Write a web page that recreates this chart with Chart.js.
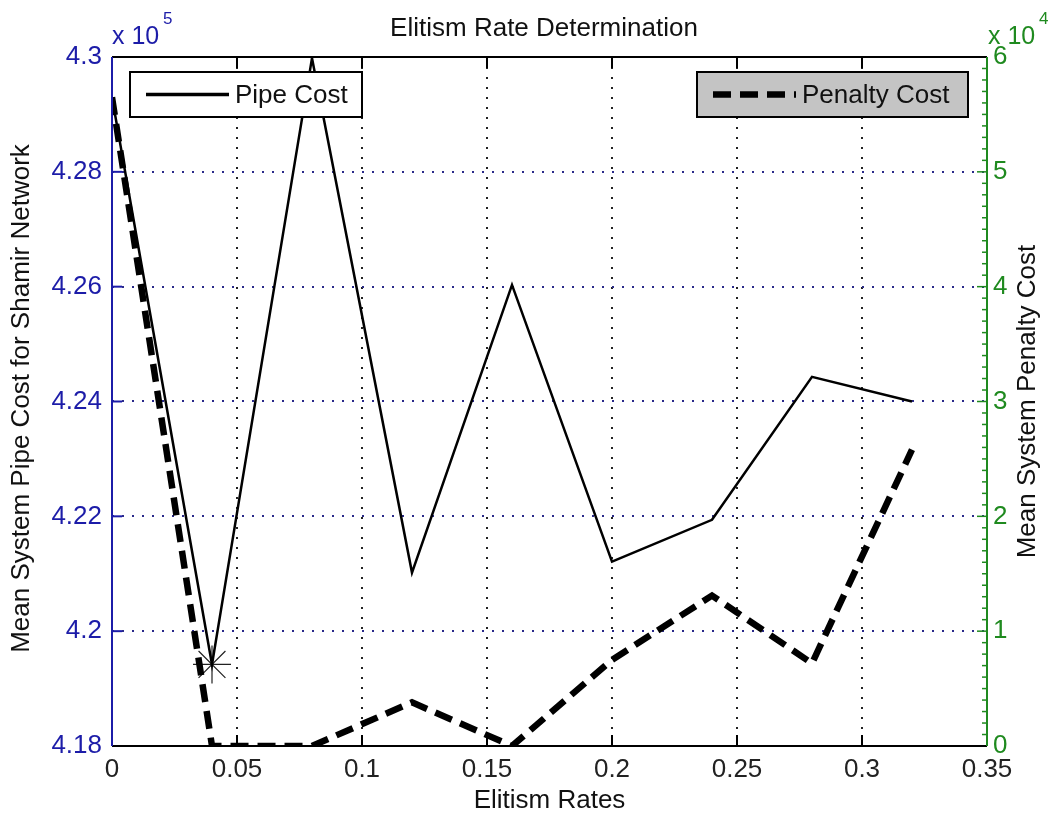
<!DOCTYPE html>
<html>
<head>
<meta charset="utf-8">
<title>Elitism Rate Determination</title>
<script src="https://cdn.jsdelivr.net/npm/chart.js@4.4.1/dist/chart.umd.min.js"></script>
<style>
  html, body { margin: 0; padding: 0; background: #fff; }
  #wrap { width: 1056px; height: 818px; }
</style>
</head>
<body>
<div id="wrap"><canvas id="line_chart" width="1056" height="818"></canvas></div>
<script>
// elitism rates tried
const elitismRates = [0, 0.04, 0.08, 0.12, 0.16, 0.20, 0.24, 0.28, 0.32];
// mean pipe cost (x 10^5)
const pipeCost = [4.293, 4.1942, 4.2998, 4.2102, 4.2603, 4.2121, 4.2194, 4.2443, 4.2400];
// mean penalty cost (x 10^4)
const penaltyCost = [5.65, 0, 0, 0.38, 0, 0.75, 1.31, 0.72, 2.58];
// rate marked with the star
const bestRate = 0.04;

const xTicks = [0, 0.05, 0.1, 0.15, 0.2, 0.25, 0.3, 0.35];
const pipeTicks = [4.18, 4.2, 4.22, 4.24, 4.26, 4.28, 4.3];
const penaltyTicks = [0, 1, 2, 3, 4, 5, 6];

const FONT = '"Liberation Sans", Arial, sans-serif';
const FS = 26;
const BLUE = '#1c1ca8';
const GREEN = '#1f8a1f';

function fmt(v) {
    return String(Number(v.toFixed(2)));
}

function setTicks(list) {
    return function (scale) {
        scale.ticks = list.map(function (v) { return { value: v }; });
    };
}

function text(ctx, str, x, y, color, size, align) {
    ctx.fillStyle = color;
    ctx.font = size + 'px ' + FONT;
    ctx.textAlign = align || 'left';
    ctx.textBaseline = 'middle';
    ctx.fillText(str, x, y);
}

// axes box, inward ticks, exponents, titles and the two legend boxes
const matlabFrame = {
    id: 'matlabFrame',
    afterDraw(chart) {
        const ctx = chart.ctx;
        const a = chart.chartArea;
        const x = chart.scales.x, y = chart.scales.y, y1 = chart.scales.y1;
        const ds = chart.data.datasets;
        ctx.save();

        // ticks
        ctx.lineWidth = 2;
        ctx.strokeStyle = '#000';
        xTicks.forEach(function (v) {
            const px = x.getPixelForValue(v);
            ctx.beginPath();
            ctx.moveTo(px, a.bottom); ctx.lineTo(px, a.bottom - 11);
            ctx.moveTo(px, a.top); ctx.lineTo(px, a.top + 11);
            ctx.stroke();
        });
        ctx.strokeStyle = BLUE;
        pipeTicks.forEach(function (v) {
            const py = y.getPixelForValue(v);
            ctx.beginPath();
            ctx.moveTo(a.left, py); ctx.lineTo(a.left + 10, py);
            ctx.stroke();
        });
        ctx.strokeStyle = GREEN;
        ctx.lineWidth = 1.5;
        for (let k = 0; k <= 60; k++) {
            const py = y1.getPixelForValue(k / 10);
            const len = k % 10 === 0 ? 10 : 5;
            ctx.beginPath();
            ctx.moveTo(a.right, py); ctx.lineTo(a.right - len, py);
            ctx.stroke();
        }

        // box
        ctx.lineWidth = 2;
        ctx.strokeStyle = '#000';
        ctx.beginPath();
        ctx.moveTo(a.left, a.top); ctx.lineTo(a.right, a.top);
        ctx.moveTo(a.left, a.bottom); ctx.lineTo(a.right, a.bottom);
        ctx.stroke();
        ctx.strokeStyle = BLUE;
        ctx.beginPath();
        ctx.moveTo(a.left, a.top); ctx.lineTo(a.left, a.bottom);
        ctx.stroke();
        ctx.strokeStyle = GREEN;
        ctx.beginPath();
        ctx.moveTo(a.right, a.top); ctx.lineTo(a.right, a.bottom);
        ctx.stroke();

        // exponents
        text(ctx, 'x 10', a.left, 37, BLUE, 25);
        text(ctx, '5', a.left + 51, 19, BLUE, 17);
        text(ctx, 'x 10', a.right + 1, 37, GREEN, 25);
        text(ctx, '4', a.right + 52, 19, GREEN, 17);

        // titles
        text(ctx, 'Elitism Rate Determination', 544, 29, '#111', FS, 'center');
        text(ctx, 'Elitism Rates', (a.left + a.right) / 2, 801, '#111', FS, 'center');
        const midY = (a.top + a.bottom) / 2;
        ctx.save();
        ctx.translate(22, midY - 3);
        ctx.rotate(-Math.PI / 2);
        text(ctx, 'Mean System Pipe Cost for Shamir Network', 0, 0, '#111', FS, 'center');
        ctx.restore();
        ctx.save();
        ctx.translate(1028, midY);
        ctx.rotate(-Math.PI / 2);
        text(ctx, 'Mean System Penalty Cost', 0, 0, '#111', FS, 'center');
        ctx.restore();

        // legends
        function legend(x0, y0, w, h, fill, d, label) {
            ctx.fillStyle = fill;
            ctx.fillRect(x0, y0, w, h);
            ctx.lineWidth = 2;
            ctx.strokeStyle = '#000';
            ctx.setLineDash([]);
            ctx.strokeRect(x0, y0, w, h);
            const my = y0 + h / 2;
            ctx.beginPath();
            ctx.lineWidth = Math.max(d.borderWidth, 3.5);
            ctx.strokeStyle = d.borderColor;
            ctx.setLineDash(d.borderDash || []);
            ctx.moveTo(x0 + 16, my); ctx.lineTo(x0 + 99, my);
            ctx.stroke();
            ctx.setLineDash([]);
            text(ctx, label, x0 + 105, my + 1, '#111', FS);
        }
        legend(130, 72, 232, 45, '#fff', ds[0], ds[0].label);
        legend(697, 72, 271, 45, '#c4c4c4', ds[1], ds[1].label);

        ctx.restore();
    }
};

const points = function (vals) {
    return elitismRates.map(function (r, i) { return { x: r, y: vals[i] }; });
};

new Chart(document.getElementById('line_chart').getContext('2d'), {
    type: 'line',
    data: {
        datasets: [
            {
                label: 'Pipe Cost',
                data: points(pipeCost),
                yAxisID: 'y',
                borderColor: '#000',
                borderWidth: 2.5,
                pointRadius: 0,
                tension: 0
            },
            {
                label: 'Penalty Cost',
                data: points(penaltyCost),
                yAxisID: 'y1',
                borderColor: '#000',
                borderWidth: 6.5,
                borderDash: [18, 9],
                borderCapStyle: 'butt',
                pointRadius: 0,
                tension: 0
            },
            {
                label: 'best',
                data: [{ x: bestRate, y: pipeCost[elitismRates.indexOf(bestRate)] }],
                yAxisID: 'y',
                showLine: false,
                pointStyle: 'star',
                pointRadius: 19,
                borderColor: '#222',
                borderWidth: 1.2,
                backgroundColor: 'transparent'
            }
        ]
    },
    options: {
        responsive: false,
        animation: false,
        devicePixelRatio: 1,
        layout: { padding: { top: 57, left: 0, right: 0, bottom: 0 } },
        plugins: { legend: { display: false }, tooltip: { enabled: false }, title: { display: false } },
        scales: {
            x: {
                type: 'linear',
                min: 0, max: 0.35,
                afterBuildTicks: setTicks(xTicks),
                afterFit: function (s) { s.height = 72; },
                ticks: { color: '#222', font: { family: FONT, size: FS }, padding: 8, maxRotation: 0, callback: fmt },
                grid: { color: '#222', lineWidth: 2, drawTicks: false },
                border: { display: false, dash: [2, 8] }
            },
            y: {
                position: 'left',
                min: 4.18, max: 4.3,
                afterBuildTicks: setTicks(pipeTicks),
                afterFit: function (s) { s.width = 112; },
                ticks: { color: BLUE, font: { family: FONT, size: FS }, padding: 10, callback: fmt },
                grid: { color: '#2a2a8a', lineWidth: 2, drawTicks: false },
                border: { display: false, dash: [2, 8] }
            },
            y1: {
                position: 'right',
                min: 0, max: 6,
                afterBuildTicks: setTicks(penaltyTicks),
                afterFit: function (s) { s.width = 69; },
                ticks: { color: GREEN, font: { family: FONT, size: FS }, padding: 6, callback: fmt },
                grid: { drawOnChartArea: false, drawTicks: false },
                border: { display: false }
            }
        }
    },
    plugins: [matlabFrame]
});
</script>
</body>
</html>
